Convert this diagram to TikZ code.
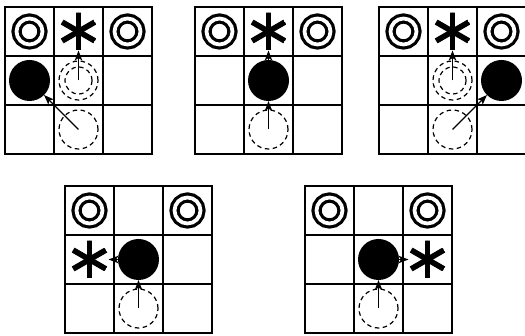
\documentclass[tikz,border=0pt]{standalone}
\usetikzlibrary{arrows.meta}
\tikzset{
  board/.style={line width=1.5pt},
  agent/.style={circle, fill=black, minimum size=41pt, inner sep=0pt, outer sep=0pt},
  ghost/.style={circle, draw, dash pattern=on 4.5pt off 3.5pt, line width=1.2pt,
    minimum size=39pt, inner sep=0pt, outer sep=0pt},
  ring/.style={circle, draw, line width=3.2pt, double, double distance=3.8pt,
    minimum size=26pt, inner sep=0pt},
  goal/.style={circle, minimum size=38pt, inner sep=0pt, outer sep=0pt,
    path picture={
      \foreach \a in {90,30,150}
        \draw[line width=5.6pt] ([shift={(\a:19pt)}]path picture bounding box.center)
          -- ([shift={(\a+180:19pt)}]path picture bounding box.center);
    }},
  move/.style={-{Stealth[length=10pt,width=7.5pt,inset=2.5pt]}, line width=1.4pt},
}
\begin{document}
\begin{tikzpicture}[x=1pt, y=-1pt]
  \useasboundingbox (0,0) rectangle (525,336);
  % top row, left
  \begin{scope}[shift={(5,7)}]
    \draw[board] (0,0) rectangle (147,147);
    \foreach \k in {49,98} {
      \draw[board] (\k,0) -- (\k,147);
      \draw[board] (0,\k) -- (147,\k);
    }
    \node[ring] at (24.5,24.5) {};
    \node[ring] at (122.5,24.5) {};
    \node[goal] (s1) at (73.5,24.5) {};
    \node[agent] (a1) at (24.5,73.5) {};
    \node[ghost] (p1) at (73.5,73.5) {};
    \node[ghost, minimum size=27pt] at (p1) {};
    \node[ghost] (q1) at (73.5,122.5) {};
    \draw[move] (p1.center) -- (s1);
    \draw[move] (q1.center) -- (a1);
  \end{scope}
  % top row, middle
  \begin{scope}[shift={(195,7)}]
    \draw[board] (0,0) rectangle (147,147);
    \foreach \k in {49,98} {
      \draw[board] (\k,0) -- (\k,147);
      \draw[board] (0,\k) -- (147,\k);
    }
    \node[ring] at (24.5,24.5) {};
    \node[ring] at (122.5,24.5) {};
    \node[goal] (s2) at (73.5,24.5) {};
    \node[agent] (a2) at (73.5,73.5) {};
    \node[ghost] (q2) at (73.5,122.5) {};
    \draw[move] (a2) -- (s2);
    \draw[move] (q2.center) -- (a2);
  \end{scope}
  % top row, right
  \begin{scope}[shift={(379,7)}]
    \draw[board] (0,0) rectangle (147,147);
    \foreach \k in {49,98} {
      \draw[board] (\k,0) -- (\k,147);
      \draw[board] (0,\k) -- (147,\k);
    }
    \node[ring] at (24.5,24.5) {};
    \node[ring] at (122.5,24.5) {};
    \node[goal] (s3) at (73.5,24.5) {};
    \node[agent] (a3) at (122.5,73.5) {};
    \node[ghost] (p3) at (73.5,73.5) {};
    \node[ghost, minimum size=27pt] at (p3) {};
    \node[ghost] (q3) at (73.5,122.5) {};
    \draw[move] (p3.center) -- (s3);
    \draw[move] (q3.center) -- (a3);
  \end{scope}
  % bottom row, left
  \begin{scope}[shift={(65,186)}]
    \draw[board] (0,0) rectangle (147,147);
    \foreach \k in {49,98} {
      \draw[board] (\k,0) -- (\k,147);
      \draw[board] (0,\k) -- (147,\k);
    }
    \node[ring] at (24.5,24.5) {};
    \node[ring] at (122.5,24.5) {};
    \node[goal] (s4) at (24.5,73.5) {};
    \node[agent] (a4) at (73.5,73.5) {};
    \node[ghost] (q4) at (73.5,122.5) {};
    \draw[move] (a4) -- (s4);
    \draw[move] (q4.center) -- (a4);
  \end{scope}
  % bottom row, right
  \begin{scope}[shift={(305,186)}]
    \draw[board] (0,0) rectangle (147,147);
    \foreach \k in {49,98} {
      \draw[board] (\k,0) -- (\k,147);
      \draw[board] (0,\k) -- (147,\k);
    }
    \node[ring] at (24.5,24.5) {};
    \node[ring] at (122.5,24.5) {};
    \node[goal] (s5) at (122.5,73.5) {};
    \node[agent] (a5) at (73.5,73.5) {};
    \node[ghost] (q5) at (73.5,122.5) {};
    \draw[move] (a5) -- (s5);
    \draw[move] (q5.center) -- (a5);
  \end{scope}
\end{tikzpicture}
\end{document}
